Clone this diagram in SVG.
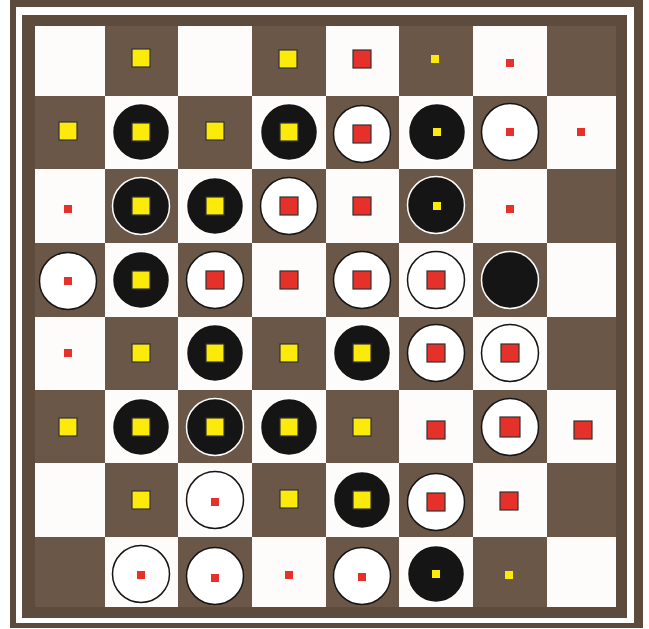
<svg xmlns="http://www.w3.org/2000/svg" width="649" height="629" viewBox="0 0 649 629">
<style>
.frame{fill:#5d4c3d}
.gap{fill:#ffffff}
.w{fill:#fdfcfa}
.d{fill:#6a5747}
.bd{fill:#151515;stroke:#ffffff;stroke-width:1.5}
.wd{fill:#ffffff;stroke:#151515;stroke-width:1.5}
.ys{fill:#fcea0b;stroke:#333333;stroke-width:1.2}
.rs{fill:#e5312a;stroke:#333333;stroke-width:1.2}
.yss{fill:#fcea0b}
.rss{fill:#e5312a}
</style>
<rect width="649" height="629" fill="#ffffff"/>
<g id="frame">
<rect class="frame" x="10" y="0" width="633" height="628"/>
<rect class="gap" x="16" y="7" width="618" height="616"/>
<rect class="frame" x="22" y="15" width="605" height="603"/>
</g>
<g id="board">
<!-- row 0 -->
<g id="r0c0"><rect class="w" x="35" y="26" width="70" height="70"/></g>
<g id="r0c1"><rect class="d" x="105" y="26" width="73" height="70"/><rect class="ys" x="132" y="49" width="18" height="18"/></g>
<g id="r0c2"><rect class="w" x="178" y="26" width="74" height="70"/></g>
<g id="r0c3"><rect class="d" x="252" y="26" width="74" height="70"/><rect class="ys" x="279" y="50" width="18" height="18"/></g>
<g id="r0c4"><rect class="w" x="326" y="26" width="73" height="70"/><rect class="rs" x="353" y="50" width="18" height="18"/></g>
<g id="r0c5"><rect class="d" x="399" y="26" width="74" height="70"/><rect class="yss" x="431" y="55" width="8" height="8"/></g>
<g id="r0c6"><rect class="w" x="473" y="26" width="74" height="70"/><rect class="rss" x="506" y="59" width="8" height="8"/></g>
<g id="r0c7"><rect class="d" x="547" y="26" width="69" height="70"/></g>
<!-- row 1 -->
<g id="r1c0"><rect class="d" x="35" y="96" width="70" height="73"/><rect class="ys" x="59" y="122" width="18" height="18"/></g>
<g id="r1c1"><rect class="w" x="105" y="96" width="73" height="73"/><circle class="bd" cx="141" cy="132" r="28.5"/><rect class="ys" x="132" y="123" width="18" height="18"/></g>
<g id="r1c2"><rect class="d" x="178" y="96" width="74" height="73"/><rect class="ys" x="206" y="122" width="18" height="18"/></g>
<g id="r1c3"><rect class="w" x="252" y="96" width="74" height="73"/><circle class="bd" cx="289" cy="132" r="28.5"/><rect class="ys" x="280" y="123" width="18" height="18"/></g>
<g id="r1c4"><rect class="d" x="326" y="96" width="73" height="73"/><circle class="wd" cx="362" cy="134" r="28.5"/><rect class="rs" x="353" y="125" width="18" height="18"/></g>
<g id="r1c5"><rect class="w" x="399" y="96" width="74" height="73"/><circle class="bd" cx="437" cy="132" r="28.5"/><rect class="yss" x="433" y="128" width="8" height="8"/></g>
<g id="r1c6"><rect class="d" x="473" y="96" width="74" height="73"/><circle class="wd" cx="510" cy="132" r="28.5"/><rect class="rss" x="506" y="128" width="8" height="8"/></g>
<g id="r1c7"><rect class="w" x="547" y="96" width="69" height="73"/><rect class="rss" x="577" y="128" width="8" height="8"/></g>
<!-- row 2 -->
<g id="r2c0"><rect class="w" x="35" y="169" width="70" height="74"/><rect class="rss" x="64" y="205" width="8" height="8"/></g>
<g id="r2c1"><rect class="d" x="105" y="169" width="73" height="74"/><circle class="bd" cx="141" cy="206" r="28.5"/><rect class="ys" x="132" y="197" width="18" height="18"/></g>
<g id="r2c2"><rect class="w" x="178" y="169" width="74" height="74"/><circle class="bd" cx="215" cy="206" r="28.5"/><rect class="ys" x="206" y="197" width="18" height="18"/></g>
<g id="r2c3"><rect class="d" x="252" y="169" width="74" height="74"/><circle class="wd" cx="289" cy="206" r="28.5"/><rect class="rs" x="280" y="197" width="18" height="18"/></g>
<g id="r2c4"><rect class="w" x="326" y="169" width="73" height="74"/><rect class="rs" x="353" y="197" width="18" height="18"/></g>
<g id="r2c5"><rect class="d" x="399" y="169" width="74" height="74"/><circle class="bd" cx="436" cy="205" r="28.5"/><rect class="yss" x="433" y="202" width="8" height="8"/></g>
<g id="r2c6"><rect class="w" x="473" y="169" width="74" height="74"/><rect class="rss" x="506" y="205" width="8" height="8"/></g>
<g id="r2c7"><rect class="d" x="547" y="169" width="69" height="74"/></g>
<!-- row 3 -->
<g id="r3c0"><rect class="d" x="35" y="243" width="70" height="74"/><circle class="wd" cx="68" cy="281" r="28.5"/><rect class="rss" x="64" y="277" width="8" height="8"/></g>
<g id="r3c1"><rect class="w" x="105" y="243" width="73" height="74"/><circle class="bd" cx="141" cy="280" r="28.5"/><rect class="ys" x="132" y="271" width="18" height="18"/></g>
<g id="r3c2"><rect class="d" x="178" y="243" width="74" height="74"/><circle class="wd" cx="215" cy="280" r="28.5"/><rect class="rs" x="206" y="271" width="18" height="18"/></g>
<g id="r3c3"><rect class="w" x="252" y="243" width="74" height="74"/><rect class="rs" x="280" y="271" width="18" height="18"/></g>
<g id="r3c4"><rect class="d" x="326" y="243" width="73" height="74"/><circle class="wd" cx="362" cy="280" r="28.5"/><rect class="rs" x="353" y="271" width="18" height="18"/></g>
<g id="r3c5"><rect class="w" x="399" y="243" width="74" height="74"/><circle class="wd" cx="436" cy="280" r="28.5"/><rect class="rs" x="427" y="271" width="18" height="18"/></g>
<g id="r3c6"><rect class="d" x="473" y="243" width="74" height="74"/><circle class="bd" cx="510" cy="280" r="28.5"/></g>
<g id="r3c7"><rect class="w" x="547" y="243" width="69" height="74"/></g>
<!-- row 4 -->
<g id="r4c0"><rect class="w" x="35" y="317" width="70" height="73"/><rect class="rss" x="64" y="349" width="8" height="8"/></g>
<g id="r4c1"><rect class="d" x="105" y="317" width="73" height="73"/><rect class="ys" x="132" y="344" width="18" height="18"/></g>
<g id="r4c2"><rect class="w" x="178" y="317" width="74" height="73"/><circle class="bd" cx="215" cy="353" r="28.5"/><rect class="ys" x="206" y="344" width="18" height="18"/></g>
<g id="r4c3"><rect class="d" x="252" y="317" width="74" height="73"/><rect class="ys" x="280" y="344" width="18" height="18"/></g>
<g id="r4c4"><rect class="w" x="326" y="317" width="73" height="73"/><circle class="bd" cx="362" cy="353" r="28.5"/><rect class="ys" x="353" y="344" width="18" height="18"/></g>
<g id="r4c5"><rect class="d" x="399" y="317" width="74" height="73"/><circle class="wd" cx="436" cy="353" r="28.5"/><rect class="rs" x="427" y="344" width="18" height="18"/></g>
<g id="r4c6"><rect class="w" x="473" y="317" width="74" height="73"/><circle class="wd" cx="510" cy="353" r="28.5"/><rect class="rs" x="501" y="344" width="18" height="18"/></g>
<g id="r4c7"><rect class="d" x="547" y="317" width="69" height="73"/></g>
<!-- row 5 -->
<g id="r5c0"><rect class="d" x="35" y="390" width="70" height="73"/><rect class="ys" x="59" y="418" width="18" height="18"/></g>
<g id="r5c1"><rect class="w" x="105" y="390" width="73" height="73"/><circle class="bd" cx="141" cy="427" r="28.5"/><rect class="ys" x="132" y="418" width="18" height="18"/></g>
<g id="r5c2"><rect class="d" x="178" y="390" width="74" height="73"/><circle class="bd" cx="215" cy="427" r="28.5"/><rect class="ys" x="206" y="418" width="18" height="18"/></g>
<g id="r5c3"><rect class="w" x="252" y="390" width="74" height="73"/><circle class="bd" cx="289" cy="427" r="28.5"/><rect class="ys" x="280" y="418" width="18" height="18"/></g>
<g id="r5c4"><rect class="d" x="326" y="390" width="73" height="73"/><rect class="ys" x="353" y="418" width="18" height="18"/></g>
<g id="r5c5"><rect class="w" x="399" y="390" width="74" height="73"/><rect class="rs" x="427" y="421" width="18" height="18"/></g>
<g id="r5c6"><rect class="d" x="473" y="390" width="74" height="73"/><circle class="wd" cx="510" cy="427" r="28.5"/><rect class="rs" x="500" y="417" width="20" height="20"/></g>
<g id="r5c7"><rect class="w" x="547" y="390" width="69" height="73"/><rect class="rs" x="574" y="421" width="18" height="18"/></g>
<!-- row 6 -->
<g id="r6c0"><rect class="w" x="35" y="463" width="70" height="74"/></g>
<g id="r6c1"><rect class="d" x="105" y="463" width="73" height="74"/><rect class="ys" x="132" y="491" width="18" height="18"/></g>
<g id="r6c2"><rect class="w" x="178" y="463" width="74" height="74"/><circle class="wd" cx="215" cy="500" r="28.5"/><rect class="rss" x="211" y="498" width="8" height="8"/></g>
<g id="r6c3"><rect class="d" x="252" y="463" width="74" height="74"/><rect class="ys" x="280" y="490" width="18" height="18"/></g>
<g id="r6c4"><rect class="w" x="326" y="463" width="73" height="74"/><circle class="bd" cx="362" cy="500" r="28.5"/><rect class="ys" x="353" y="491" width="18" height="18"/></g>
<g id="r6c5"><rect class="d" x="399" y="463" width="74" height="74"/><circle class="wd" cx="436" cy="502" r="28.5"/><rect class="rs" x="427" y="493" width="18" height="18"/></g>
<g id="r6c6"><rect class="w" x="473" y="463" width="74" height="74"/><rect class="rs" x="500" y="492" width="18" height="18"/></g>
<g id="r6c7"><rect class="d" x="547" y="463" width="69" height="74"/></g>
<!-- row 7 -->
<g id="r7c0"><rect class="d" x="35" y="537" width="70" height="70"/></g>
<g id="r7c1"><rect class="w" x="105" y="537" width="73" height="70"/><circle class="wd" cx="141" cy="574" r="28.5"/><rect class="rss" x="137" y="571" width="8" height="8"/></g>
<g id="r7c2"><rect class="d" x="178" y="537" width="74" height="70"/><circle class="wd" cx="215" cy="576" r="28.5"/><rect class="rss" x="211" y="574" width="8" height="8"/></g>
<g id="r7c3"><rect class="w" x="252" y="537" width="74" height="70"/><rect class="rss" x="285" y="571" width="8" height="8"/></g>
<g id="r7c4"><rect class="d" x="326" y="537" width="73" height="70"/><circle class="wd" cx="362" cy="576" r="28.5"/><rect class="rss" x="358" y="573" width="8" height="8"/></g>
<g id="r7c5"><rect class="w" x="399" y="537" width="74" height="70"/><circle class="bd" cx="436" cy="574" r="28.5"/><rect class="yss" x="432" y="570" width="8" height="8"/></g>
<g id="r7c6"><rect class="d" x="473" y="537" width="74" height="70"/><rect class="yss" x="505" y="571" width="8" height="8"/></g>
<g id="r7c7"><rect class="w" x="547" y="537" width="69" height="70"/></g>
</g>
<g id="connectors"/>
</svg>
